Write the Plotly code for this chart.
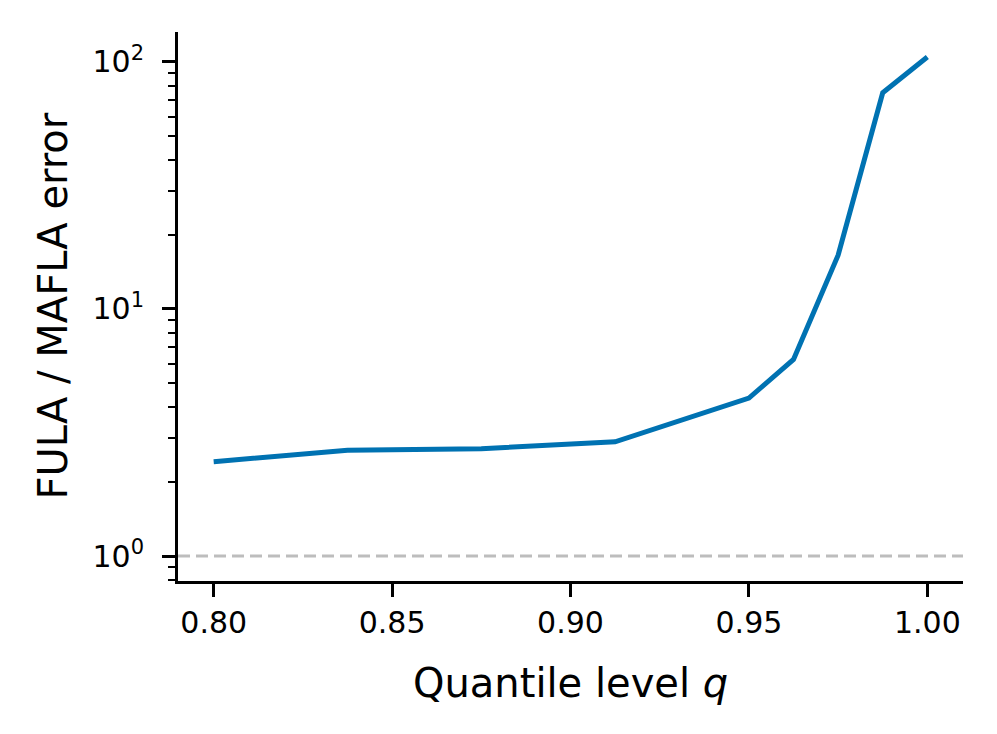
import plotly.graph_objects as go

quantile_levels = [0.8, 0.8375, 0.875, 0.9125, 0.95, 0.9625, 0.975, 0.9875, 1.0]
error_ratio = [2.41, 2.68, 2.72, 2.90, 4.36, 6.25, 16.5, 75.0, 104.7]

x_ticks = [0.80, 0.85, 0.90, 0.95, 1.00]
y_ticks = [1, 10, 100]
y_tick_text = ["10<sup>0</sup>", "10<sup>1</sup>", "10<sup>2</sup>"]
y_minor = [0.8, 0.9, 2, 3, 4, 5, 6, 7, 8, 9, 20, 30, 40, 50, 60, 70, 80, 90]

FONT = "DejaVu Sans"

# page body has an 8px default margin; compensate so the plot area lands at
# the same screen position as the reference
OFF = 8
W, H = 997 - OFF, 734 - OFF
L, T, R_EDGE, B_EDGE = 178, 32, 963, 581

fig = go.Figure()
fig.add_trace(go.Scatter(
    x=quantile_levels, y=error_ratio, mode="lines",
    line=dict(color="#0072B2", width=5), showlegend=False,
))

fig.add_shape(type="line", xref="paper", x0=0, x1=1, yref="y", y0=1, y1=1,
              line=dict(color="#bdbdbd", width=3, dash="12px,6px"), layer="below")

fig.update_layout(
    width=W, height=H,
    margin=dict(l=L - OFF, r=(W + OFF) - R_EDGE, t=T - OFF, b=(H + OFF) - B_EDGE, pad=0),
    plot_bgcolor="white", paper_bgcolor="white",
    font=dict(family=FONT, color="black", size=30),
)

fig.update_xaxes(
    range=[0.79, 1.01], tickvals=x_ticks, tickformat=".2f",
    showline=True, linecolor="black", linewidth=2.8, mirror=False,
    ticks="outside", ticklen=13, tickwidth=2.8, tickcolor="black",
    showgrid=False, zeroline=False,
    tickfont=dict(family=FONT, size=30),
)
fig.update_yaxes(
    type="log", range=[-0.101, 2.121],
    tickvals=y_ticks, ticktext=y_tick_text,
    showline=True, linecolor="black", linewidth=2.8, mirror=False,
    ticks="outside", ticklen=13, tickwidth=2.8, tickcolor="black",
    minor=dict(tickvals=y_minor, ticks="outside", ticklen=7, tickwidth=2.2, tickcolor="black", showgrid=False),
    showgrid=False, zeroline=False, ticklabelstandoff=12,
    tickfont=dict(family=FONT, size=30),
)

pw, ph = R_EDGE - L, B_EDGE - T
fig.add_annotation(text="Quantile level <i>q</i>", xref="paper", yref="paper",
                   x=0.5, y=-(683 - B_EDGE) / ph, xanchor="center", yanchor="middle",
                   showarrow=False, font=dict(family=FONT, size=40))
fig.add_annotation(text="FULA / MAFLA error", xref="paper", yref="paper",
                   x=(52 - L) / pw, y=0.5, xanchor="center", yanchor="middle",
                   textangle=-90, showarrow=False, font=dict(family=FONT, size=40))

fig.write_html("out.html")
